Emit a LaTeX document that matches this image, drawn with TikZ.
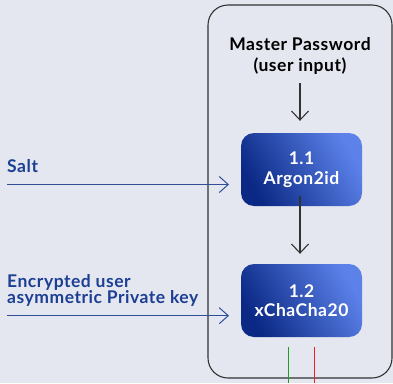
\documentclass[tikz,border=0pt]{standalone}
\usepackage{fontspec}
\setmainfont{Lato}[LetterSpace=3]
\usetikzlibrary{arrows.meta,positioning}
\definecolor{bg}{HTML}{E4E7EF}
\definecolor{txtblue}{HTML}{1C3F94}
\definecolor{lnblue}{HTML}{2E4E98}
\definecolor{boxdark}{HTML}{0A2884}
\definecolor{boxlight}{HTML}{5C82EA}
\definecolor{frame}{HTML}{333333}
\definecolor{gline}{HTML}{1E9E1E}
\definecolor{rline}{HTML}{F02020}
\tikzset{
  proc/.style={rounded corners=13pt, minimum width=121pt, minimum height=73pt,
    left color=boxdark, right color=boxlight, shading angle=120,
    text=white, align=center, font=\bfseries\fontsize{17.5}{19.5}\selectfont, inner sep=0pt},
  lbl/.style={text=txtblue, align=left, font=\bfseries\fontsize{17.5}{16}\selectfont, inner sep=0pt, anchor=base west},
  inarrow/.style={draw=lnblue, line width=1pt, -{Straight Barb[length=9pt,width=16pt,line width=1pt]}},
  downarrow/.style={draw=frame, line width=1.1pt, -{Straight Barb[length=9pt,width=17pt,line width=1.1pt]}},
}
\begin{document}
\begin{tikzpicture}[x=1pt,y=-1pt]
\fill[bg] (0,0) rectangle (393,383);
\useasboundingbox (0,0) rectangle (393,383);
\node[draw=frame, line width=1.1pt, rounded corners=20pt, minimum width=184pt, minimum height=373pt, inner sep=0pt] (frm) at (300,191.5) {};
\node[text=black, align=center, font=\bfseries\fontsize{17.5}{20.5}\selectfont, inner sep=0pt] (mp) at (300,56) {Master Password\\(user input)};
\node[proc] (b1) at (301.5,169.5) {1.1\\Argon2id};
\node[proc] (b2) at (301.5,300.5) {1.2\\xChaCha20};
\coordinate (mpbot) at (300,83);
\draw[downarrow] (mpbot) -- ([xshift=-1.5pt,yshift=12pt]b1.north);
\draw[downarrow] ([xshift=-1.5pt,yshift=10pt]b1.south) -- ([xshift=-1.5pt,yshift=10pt]b2.north);
\node[lbl] (salt) at (7,172) {Salt};
\node[lbl] (key) at (7,303) {Encrypted user\\asymmetric Private key};
\coordinate (s0) at (7,184.5);
\coordinate (k0) at (7,315.7);
\coordinate (s1) at (229,184.5);
\coordinate (k1) at (229,315.7);
\draw[inarrow] (s0) -- (s1);
\draw[inarrow] (k0) -- (k1);
\coordinate (g0) at (288,347);
\coordinate (g1) at (288,383);
\coordinate (r0) at (314,347);
\coordinate (r1) at (314,383);
\draw[gline, line width=1pt] (g0) -- (g1);
\draw[rline, line width=1pt] (r0) -- (r1);
\end{tikzpicture}
\end{document}
